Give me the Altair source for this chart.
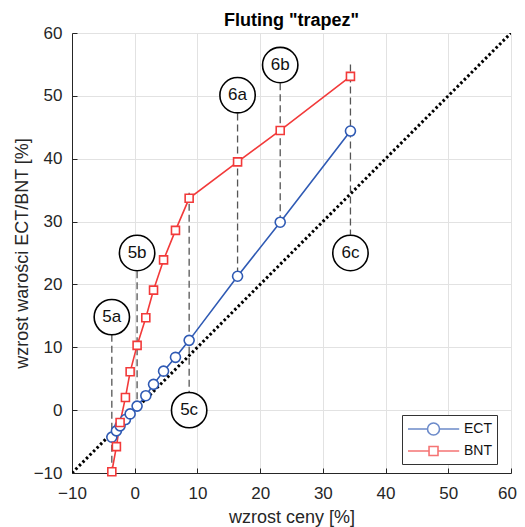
import altair as alt
import pandas as pd

# ---- data ----
price_x = [-3.65, -2.92, -2.33, -1.48, -0.73, 0.38, 1.77, 3.0, 4.6, 6.5, 8.68, 16.4, 23.2, 34.4]
ect_y = [-4.3, -3.3, -2.5, -1.5, -0.6, 0.64, 2.3, 4.1, 6.2, 8.4, 11.1, 21.3, 29.9, 44.4]
bnt_y = [-9.8, -5.8, -1.96, 2.0, 6.1, 10.3, 14.7, 19.1, 23.9, 28.6, 33.7, 39.5, 44.5, 53.1]

series_names = ["ECT", "BNT"]
series_colors = ["#2f5ab4", "#f23a3a"]

diag_x = [-10, 60]

labels = ["5a", "5b", "5c", "6a", "6b", "6c"]
label_x = [-3.65, 0.38, 8.68, 16.4, 23.2, 34.4]
label_y = [14.8, 25.0, 0.0, 50.1, 54.9, 25.0]
dash_top = [12.0, 22.1, 34.6, 47.2, 52.0, 55.0]
dash_bottom = [-9.8, 0.6, 2.9, 21.3, 29.9, 27.9]

x_ticks = [-10, 0, 10, 20, 30, 40, 50, 60]
y_ticks = [-10, 0, 10, 20, 30, 40, 50, 60]

# ---- tables ----
df = pd.DataFrame({
    "x": price_x + price_x,
    "y": ect_y + bnt_y,
    "series": ["ECT"] * len(price_x) + ["BNT"] * len(price_x),
})
diag_df = pd.DataFrame({"x": diag_x, "y": diag_x})
lab_df = pd.DataFrame({"x": label_x, "y": label_y, "label": labels,
                       "top": dash_top, "bottom": dash_bottom})

xscale = alt.Scale(domain=[-10, 60], nice=False, zero=False)
yscale = alt.Scale(domain=[-10, 60], nice=False, zero=False)

# main axes (labels, titles, grid)
X = alt.X("x:Q", scale=xscale, title="wzrost ceny [%]",
          axis=alt.Axis(values=x_ticks, grid=True, ticks=False, labelFlush=False,
                        labelOffset={"condition": {"test": "datum.value == 60", "value": -4},
                                     "value": 0},
                        labelPadding=12, titlePadding=7))
Y = alt.Y("y:Q", scale=yscale, title="wzrost warości ECT/BNT [%]",
          axis=alt.Axis(values=y_ticks, grid=True, ticks=False, labelFlush=False,
                        labelPadding=10, titlePadding=2))
# inward tick marks (MATLAB style): opposite-side axes shifted onto the frame
Xt = alt.X("x:Q", scale=xscale, title=None,
           axis=alt.Axis(values=x_ticks, orient="top", offset=-440, labels=False,
                         domain=False, grid=False, ticks=True, tickSize=5,
                         tickColor="#262626", tickWidth=1))
Yt = alt.Y("y:Q", scale=yscale, title=None,
           axis=alt.Axis(values=y_ticks, orient="right", offset=-439, labels=False,
                         domain=False, grid=False, ticks=True, tickSize=5,
                         tickColor="#262626", tickWidth=1))
Xn = alt.X("x:Q", scale=xscale, axis=None)
Yn = alt.Y("y:Q", scale=yscale, axis=None)

color_scale = alt.Scale(domain=series_names, range=series_colors)

diag = alt.Chart(diag_df).mark_line(
    color="black", strokeWidth=3, strokeDash=[2.5, 2.5], clip=True
).encode(x=X, y=Y)

dashes = alt.Chart(lab_df).mark_rule(
    color="#555555", strokeWidth=1.3, strokeDash=[7, 4]
).encode(x=Xn, y=alt.Y("top:Q", scale=yscale, axis=None), y2="bottom:Q")

lines = alt.Chart(df).mark_line(strokeWidth=1.6).encode(
    x=Xt, y=Yt,
    color=alt.Color("series:N", scale=color_scale, legend=None),
    detail="series:N",
)

points = alt.Chart(df).mark_point(filled=False, fill="white", fillOpacity=1,
                                  strokeWidth=1.6, opacity=1).encode(
    x=Xn, y=Yn,
    color=alt.Color("series:N", scale=color_scale, legend=None),
    shape=alt.Shape("series:N",
                    scale=alt.Scale(domain=series_names, range=["circle", "square"]),
                    legend=None),
    size=alt.Size("series:N",
                  scale=alt.Scale(domain=series_names, range=[100, 64]),
                  legend=None),
)

# legend layer: rows have no x/y, so only the legend symbols are drawn
path_circle = "M-1,0H1.44M2.94,0H5.4M1.44,0A0.75,0.75,0,1,1,2.94,0A0.75,0.75,0,1,1,1.44,0Z"
path_square = "M-1,0H1.63M2.75,0H5.4M1.63,-0.56H2.75V0.56H1.63Z"
leg_df = alt.Data(values=[{"series": s} for s in series_names])
leg_opts = dict(title=None, orient="none", legendX=330, legendY=382,
                symbolSize=256, symbolStrokeWidth=1.6,
                labelOffset=39, labelFontSize=14, labelColor="#111111",
                labelFont="Liberation Sans",
                padding=5, rowPadding=3,
                strokeColor="#333333", fillColor="white")
legend_layer = alt.Chart(leg_df).mark_point(filled=False, strokeWidth=1.6).encode(
    x=Xn, y=Yn,
    color=alt.Color("series:N", scale=color_scale, legend=alt.Legend(**leg_opts)),
    shape=alt.Shape("series:N",
                    scale=alt.Scale(domain=series_names, range=[path_circle, path_square]),
                    legend=alt.Legend(**leg_opts)),
)

lab_circles = alt.Chart(lab_df).mark_point(
    shape="circle", size=1250, filled=False, fill="white", fillOpacity=1,
    stroke="black", strokeWidth=1.6, opacity=1
).encode(x=Xn, y=Yn)

lab_text = alt.Chart(lab_df).mark_text(
    font="Liberation Sans", fontSize=17, color="#111111", baseline="middle", align="center"
).encode(x=Xn, y=Yn, text="label:N")

chart = alt.layer(
    diag, dashes, lines, points, legend_layer, lab_circles, lab_text
).resolve_scale(
    color="independent", shape="independent", size="independent"
).resolve_axis(
    x="independent", y="independent"
).properties(
    width=439, height=440,
    autosize=alt.AutoSizeParams(type="none"),
    padding={"left": 64, "top": 25, "right": 6, "bottom": 56},
    title=alt.TitleParams('Fluting "trapez"', font="Liberation Sans", fontSize=18,
                          fontWeight="bold", color="black", anchor="middle", offset=-6),
).configure_view(
    stroke=None
).configure_axis(
    labelFont="Liberation Sans", labelFontSize=17, labelColor="#262626",
    titleFont="Liberation Sans", titleFontSize=18, titleColor="#262626",
    titleFontWeight="normal",
    domainColor="#262626", domainWidth=1,
    gridColor="#e2e2e2", gridWidth=1,
)

chart.save("out.html", embed_options={"renderer": "svg", "actions": False})
